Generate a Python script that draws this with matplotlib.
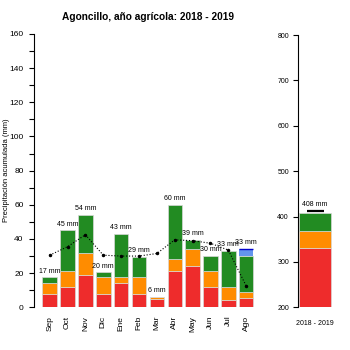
import matplotlib

matplotlib.use("Agg")

import matplotlib.pyplot as plt
import numpy as np

plt.rcParams["font.family"] = ["Liberation Sans", "DejaVu Sans"]

# monthly precipitation split into classes (mm)
months = ["Sep", "Oct", "Nov", "Dic", "Ene", "Feb", "Mar", "Abr", "May", "Jun", "Jul", "Ago"]
red = [8, 12, 19, 8, 14, 7.5, 5, 21, 24, 12, 4, 5.5]
orange = [6.5, 9.5, 13, 9.5, 3.5, 10, 1, 7, 10, 9, 8, 3.5]
green = [3, 23.5, 22, 3, 25.5, 12, 0, 32, 5.5, 9, 21, 21]
blue = [0, 0, 0, 0, 0, 0, 0, 0, 0, 0, 0, 4]
labels = ["17 mm", "45 mm", "54 mm", "20 mm", "43 mm", "29 mm", "6 mm",
          "60 mm", "39 mm", "30 mm", "33 mm", "33 mm"]
# reference (mean) monthly values, dotted line
mean_vals = [30.5, 35.5, 42.5, 30.5, 30, 30, 31.5, 39.5, 39, 37.5, 33.5, 12.5]

# annual total
year_label = "2018 - 2019"
year_red = [331]
year_orange = [38]
year_green = [39]
year_text = "408 mm"
year_mean = [412]

C_RED = "#EE2C2C"
C_ORA = "#FF8C00"
C_GRN = "#228B22"
C_BLU = "#6495ED"
EDGE = "#d8d8d8"

W, H = 350, 350
fig = plt.figure(figsize=(W / 100, H / 100), dpi=100)

# ---- monthly panel
ax = fig.add_axes((34 / W, (H - 307.3) / H, 222 / W, 273.3 / H))
x = np.arange(len(months))
r, o, g, b = map(np.array, (red, orange, green, blue))
bw = 0.81
ax.bar(x, r, bw, color=C_RED, edgecolor=EDGE, lw=0.5)
ax.bar(x, o, bw, bottom=r, color=C_ORA, edgecolor=EDGE, lw=0.5)
ax.bar(x, g, bw, bottom=r + o, color=C_GRN, edgecolor=EDGE, lw=0.5)
top = r + o + g + b
has_b = b > 0
ax.bar(x[has_b], b[has_b], bw, bottom=(r + o + g)[has_b], color=C_BLU, lw=0)
ax.hlines(top[has_b], x[has_b] - bw / 2, x[has_b] + bw / 2, color="#0000CD", lw=1.0)

ax.plot(x, mean_vals, ls=":", color="black", lw=0.8, marker=".", ms=3)

for xi, t, lab in zip(x, top, labels):
    ax.annotate(lab, (xi, t), xytext=(0, 4.5), textcoords="offset points",
                ha="center", va="center", fontsize=5)

ax.set_xlim(-0.88, 11.55)
ax.set_ylim(0, 160)
ax.set_yticks(np.arange(0, 161, 20))
ax.set_yticks(np.arange(10, 161, 20), minor=True)
ax.set_xticks(x)
ax.set_xticklabels(months, rotation=90, fontsize=6)
ax.tick_params(axis="x", length=0, pad=6)
ax.tick_params(axis="y", which="both", length=3.5, width=0.8, labelsize=6, pad=4)
for s in ("top", "right", "bottom"):
    ax.spines[s].set_visible(False)
ax.spines["left"].set_bounds(0, 160)
ax.spines["left"].set_linewidth(0.8)

fig.text(148 / W, 1 - 17 / H, "Agoncillo, año agrícola: 2018 - 2019",
         ha="center", va="center", fontsize=7.3, fontweight="bold")
fig.text(7 / W, (H - 170) / H, "Precipitación acumulada (mm)", rotation=90,
         ha="center", va="center", fontsize=5.5)

# ---- annual panel
ax2 = fig.add_axes((298 / W, (H - 307.3) / H, 36 / W, 272.3 / H))
ya, yb, yc = year_red[0], year_orange[0], year_green[0]
ax2.bar([0], year_red, 1.0, color=C_RED, edgecolor=EDGE, lw=0.5)
ax2.bar([0], year_orange, 1.0, bottom=year_red, color=C_ORA, edgecolor=EDGE, lw=0.5)
ax2.bar([0], year_green, 1.0, bottom=ya + yb, color=C_GRN, edgecolor=EDGE, lw=0.5)
ax2.hlines(year_mean, -0.25, 0.28, color="black", lw=1.6)
ax2.annotate(year_text, (0, ya + yb + yc), xytext=(0, 6), textcoords="offset points",
             ha="center", va="center", fontsize=5)
ax2.set_xlim(-0.52, 0.6)
ax2.set_ylim(200, 800)
ax2.set_yticks(np.arange(200, 801, 100))
ax2.set_xticks([0])
ax2.set_xticklabels([year_label], fontsize=5)
ax2.tick_params(axis="x", length=0, pad=9)
ax2.tick_params(axis="y", length=3.5, width=0.8, labelsize=5, pad=3)
for s in ("top", "right", "bottom"):
    ax2.spines[s].set_visible(False)
ax2.spines["left"].set_bounds(200, 800)
ax2.spines["left"].set_linewidth(0.8)

fig.savefig("out.png", dpi=100)
